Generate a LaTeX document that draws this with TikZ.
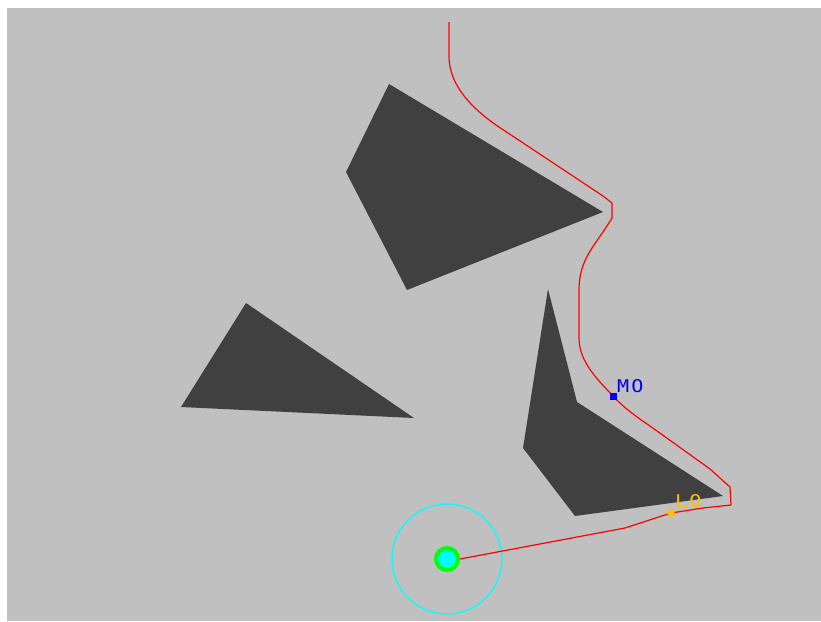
\documentclass[tikz,border=0pt]{standalone}
\usepackage{fontspec}
\newfontfamily\lblfont[FakeStretch=1.15,LetterSpace=12]{DejaVu Sans Mono}
\definecolor{bggray}{HTML}{C0C0C0}
\definecolor{obst}{HTML}{404040}
\definecolor{pathred}{HTML}{FF0000}
\definecolor{moblue}{HTML}{0000FF}
\definecolor{logold}{HTML}{FFC000}
\definecolor{rangecyan}{HTML}{00FFFF}
\definecolor{robotgreen}{HTML}{00FF00}
\tikzset{
  obstacle/.style={fill=obst},
  traj/.style={draw=pathred, line width=1.2pt, line join=round},
  mopt/.style={fill=moblue, inner sep=0pt, minimum size=7pt, rectangle},
  lopt/.style={fill=logold, inner sep=0pt, minimum size=7pt, rounded corners=1.5pt, rectangle},
  lbl/.style={font=\lblfont\fontsize{17.5}{17.5}\selectfont, inner sep=0pt, anchor=base west},
  rangecirc/.style={circle, draw=rangecyan, line width=1.3pt, minimum size=110pt, inner sep=0pt},
  robot/.style={circle, draw=robotgreen, fill=rangecyan, line width=4pt, minimum size=22pt, inner sep=0pt},
}
\begin{document}
\begin{tikzpicture}[x=1pt,y=-1pt]
\useasboundingbox (0,0) rectangle (821,621);
\fill[white] (0,0) rectangle (821,621);
\fill[bggray] (7,8) rectangle (821,621);
% obstacles
\fill[obstacle] (389,84) -- (603,212) -- (407,290) -- (346,172) -- cycle;
\fill[obstacle] (246,303) -- (414,418) -- (181,407) -- cycle;
\fill[obstacle] (548,289) -- (577,402) -- (723,496) -- (575,516) -- (523,448) -- cycle;
% range and robot
\node[rangecirc] (range) at (447,559) {};
\node[robot] (robot) at (447,559) {};
% named points
\coordinate (start) at (449,22);
\coordinate (mopos) at (613,396);
\coordinate (lopos) at (671,513);
% trajectory
\draw[traj] (start) -- (449,56)
  .. controls (449,90) and (480,115) .. (505,131)
  -- (603,196) -- (612,203) -- (612,218)
  .. controls (596,245) and (579,258) .. (579,290)
  -- (579,338)
  .. controls (579,362) and (598,380) .. (mopos)
  .. controls (622,406) and (635,416) .. (650,426)
  -- (710,469) -- (730,487)
  -- (731,505) -- (703,508) -- (lopos) -- (625,528) -- (robot.east);
\node[mopt] (mo) at (mopos) {};
\node[lopt] (lo) at (lopos) {};
\node[lbl, text=moblue] (molbl) at (617,392) {MO};
\node[lbl, text=logold] (lolbl) at (675,507) {LO};
\end{tikzpicture}
\end{document}
